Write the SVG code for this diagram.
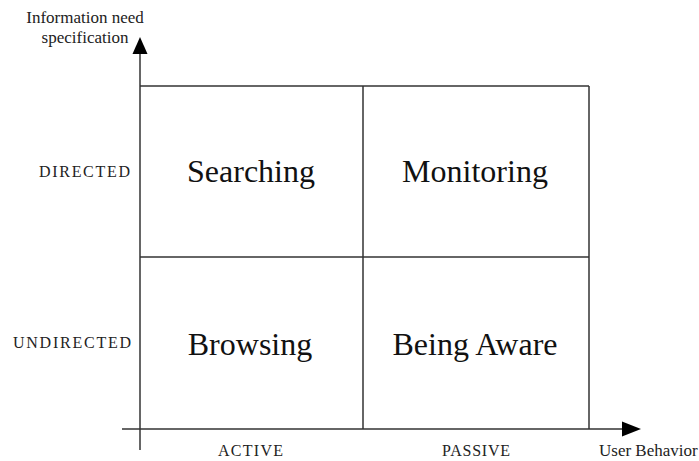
<svg xmlns="http://www.w3.org/2000/svg" width="699" height="461" viewBox="0 0 699 461">
<style>
.ln{stroke:#333;stroke-width:1.5;fill:none}
.big{font-family:"Liberation Serif","Times New Roman",serif;font-size:32px;fill:#111;text-anchor:middle}
.sm{font-family:"Liberation Serif","Times New Roman",serif;font-size:17px;fill:#222}
.cap{font-family:"Liberation Serif","Times New Roman",serif;font-size:16px;fill:#222}
</style>
<rect width="699" height="461" fill="#fff"/>
<g id="connectors">
<line class="ln" x1="140" y1="450" x2="140" y2="52"/>
<polygon points="140,37 132.5,54 147.5,54" fill="#000"/>
<line class="ln" x1="122" y1="429" x2="624" y2="429"/>
<polygon points="641,429 622,421.5 622,436.5" fill="#000"/>
</g>
<g id="grid">
<line class="ln" x1="140" y1="86" x2="589" y2="86"/>
<line class="ln" x1="140" y1="257" x2="589" y2="257"/>
<line class="ln" x1="363" y1="86" x2="363" y2="429"/>
<line class="ln" x1="589" y1="86" x2="589" y2="429"/>
</g>
<g id="searching"><text class="big" x="251" y="182">Searching</text></g>
<g id="monitoring"><text class="big" x="475" y="182">Monitoring</text></g>
<g id="browsing"><text class="big" x="250" y="355">Browsing</text></g>
<g id="being-aware"><text class="big" x="475" y="355">Being Aware</text></g>
<g id="labels">
<text class="sm" x="85" y="23" text-anchor="middle">Information need</text>
<text class="sm" x="85" y="43" text-anchor="middle">specification</text>
<text class="cap" x="39" y="177" textLength="91">DIRECTED</text>
<text class="cap" x="13" y="348" textLength="118">UNDIRECTED</text>
<text class="cap" x="218" y="456" textLength="65">ACTIVE</text>
<text class="cap" x="442" y="456" textLength="68">PASSIVE</text>
<text class="sm" x="599" y="456">User Behavior</text>
</g>
</svg>
